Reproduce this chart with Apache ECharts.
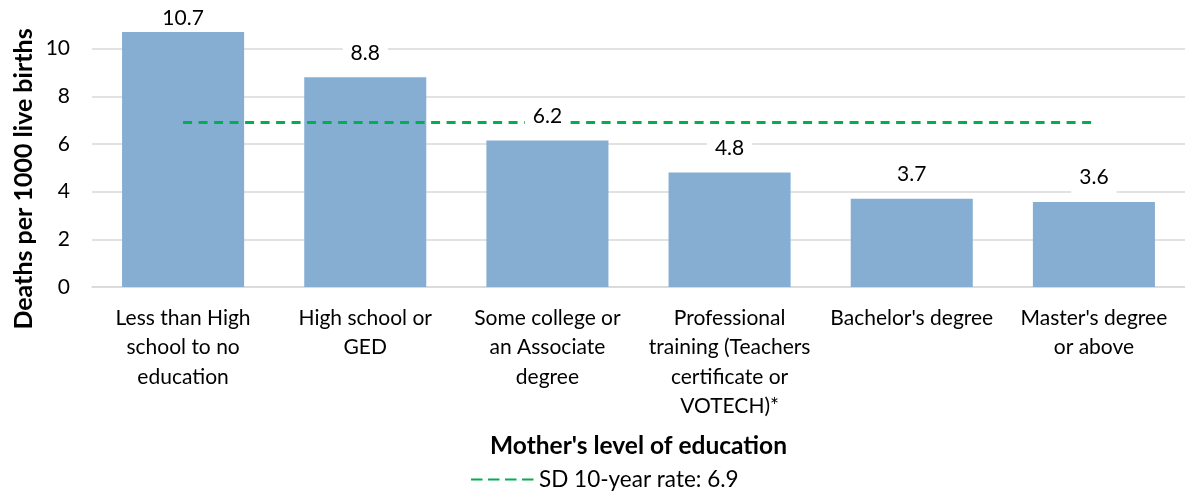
<!DOCTYPE html>
<html>
<head>
<meta charset="utf-8">
<script src="https://cdn.jsdelivr.net/npm/echarts@6/dist/echarts.min.js"></script>
<style>
  html, body { margin: 0; padding: 0; background: #fff; }
  #main { width: 1185px; height: 491px; }
</style>
</head>
<body>
<div id="main"></div>
<script>
// categories (mother's level of education)
var categories = [
    'Less than High\nschool to no\neducation',
    'High school or\nGED',
    'Some college or\nan Associate\ndegree',
    'Professional\ntraining (Teachers\ncertificate or\nVOTECH)*',
    "Bachelor's degree",
    "Master's degree\nor above"
];
// deaths per 1000 live births
var rates = [10.7, 8.8, 6.15, 4.8, 3.7, 3.57];
// SD 10-year rate
var sdRate = 6.9;
var sdLine = categories.map(function () { return sdRate; });

var yTicks = [0, 2, 4, 6, 8, 10, 12];

var myChart = echarts.init(document.getElementById('main'));

var FONT = 'Lato';
var GRID = '#d9d9d9';

// label data, the first label sits closer to its bar (no room above)
var labelData = rates.map(function (v, i) {
    var item = { value: v };
    if (i === 0) item.label = { distance: 3, padding: [0, 8] };
    return item;
});

var option = {
    animation: false,
    textStyle: { fontFamily: FONT },
    grid: { left: 92, right: -5, top: 1, bottom: 204 },
    legend: {
        bottom: -5,
        left: 465,
        itemWidth: 63,
        itemHeight: 14,
        itemStyle: { opacity: 0 },
        lineStyle: { type: [11.5, 5.5] },
        textStyle: { fontSize: 22.5, color: '#000', fontFamily: FONT },
        data: ['SD 10-year rate: 6.9']
    },
    graphic: [{
        type: 'text',
        x: 24,
        y: 179,
        rotation: Math.PI / 2,
        style: {
            text: 'Deaths per 1000 live births',
            fontSize: 25,
            fontWeight: 'bold',
            fontFamily: FONT,
            fill: '#000',
            align: 'center',
            verticalAlign: 'middle'
        }
    }],
    xAxis: {
        type: 'category',
        data: categories,
        name: "Mother's level of education",
        nameLocation: 'middle',
        nameGap: 147,
        nameTextStyle: { fontSize: 24.5, fontWeight: 'bold', color: '#000', fontFamily: FONT },
        axisLine: { lineStyle: { color: GRID, width: 1.5 } },
        axisTick: { show: false },
        axisLabel: {
            interval: 0,
            margin: 16,
            fontSize: 21,
            lineHeight: 29.5,
            color: '#000',
            fontFamily: FONT
        }
    },
    yAxis: {
        type: 'value',
        min: yTicks[0],
        max: yTicks[yTicks.length - 1],
        interval: 2,
        axisLine: { show: false },
        axisTick: { show: false },
        axisLabel: { showMaxLabel: false, margin: 22, fontSize: 21, color: '#000', fontFamily: FONT },
        splitLine: {
            lineStyle: {
                color: [GRID, GRID, GRID, GRID, GRID, GRID, 'rgba(0,0,0,0)'],
                width: 1.5
            }
        }
    },
    series: [
        {
            name: 'rate',
            type: 'bar',
            z: 1,
            data: rates,
            barWidth: '67%',
            itemStyle: { color: '#86aed2' }
        },
        {
            name: 'SD 10-year rate: 6.9',
            type: 'line',
            z: 2,
            data: sdLine,
            symbol: 'none',
            lineStyle: { color: '#00b050', width: 3, type: [9, 6.5] },
            itemStyle: { color: '#00b050' }
        },
        {
            // invisible bars carrying the value labels above the dashed line
            name: 'labels',
            type: 'bar',
            z: 3,
            data: labelData,
            barWidth: '67%',
            barGap: '-100%',
            itemStyle: { color: 'rgba(0,0,0,0)' },
            label: {
                show: true,
                position: 'top',
                distance: 8,
                fontSize: 21,
                color: '#000',
                fontFamily: FONT,
                backgroundColor: '#fff',
                padding: [6, 8],
                formatter: function (p) { return p.value.toFixed(1); }
            }
        }
    ]
};

myChart.setOption(option);
</script>
</body>
</html>
